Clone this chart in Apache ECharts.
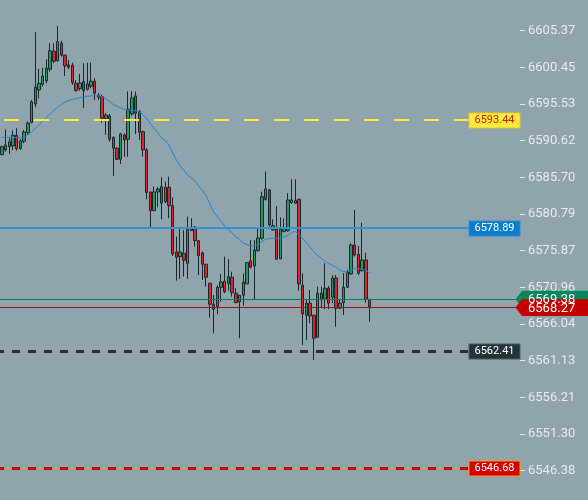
<!DOCTYPE html>
<html><head><meta charset="utf-8">
<script src="https://cdn.jsdelivr.net/npm/echarts@6/dist/echarts.min.js"></script>
<style>html,body{margin:0;padding:0;background:#90a4ae;overflow:hidden}#c{width:588px;height:500px}</style>
</head><body><div id="c"></div>
<script>
const opens=[6588.75,6589.38,6589.82,6589.92,6591.35,6589.56,6590.55,6591.70,6593.04,6595.55,
6597.42,6598.19,6598.67,6600.20,6602.61,6601.35,6603.69,6602.08,6600.78,6600.74,
6598.32,6597.60,6598.54,6597.52,6597.92,6598.59,6596.75,6596.53,6593.58,6593.94,
6591.08,6589.61,6588.13,6591.39,6590.82,6594.21,6596.62,6594.52,6591.83,6589.38,
6583.75,6581.24,6583.75,6584.46,6582.45,6584.38,6581.91,6575.71,6575.08,6575.53,
6574.19,6578.56,6579.02,6577.22,6575.57,6574.06,6571.51,6568.70,6568.37,6570.97,
6571.78,6571.42,6572.32,6570.17,6569.04,6569.90,6571.42,6574.50,6573.83,6575.88,
6577.54,6582.77,6584.02,6578.65,6578.96,6574.77,6578.43,6578.56,6582.32,6582.24,
6582.77,6571.24,6567.22,6568.83,6567.22,6564.27,6570.17,6569.37,6570.84,6569.63,
6572.22,6568.16,6568.91,6570.97,6572.76,6576.64,6575.40,6573.20,6574.63,6569.37];
const closes=[6589.82,6590.05,6590.45,6591.35,6589.56,6590.59,6591.79,6592.96,6595.82,6597.79,
6598.32,6599.30,6600.33,6602.69,6601.27,6603.90,6602.08,6600.64,6600.47,6598.40,
6597.33,6598.36,6597.33,6598.23,6598.59,6596.98,6596.45,6593.63,6594.07,6590.82,
6589.61,6588.13,6591.53,6590.72,6594.84,6596.35,6594.30,6591.75,6589.38,6583.66,
6581.24,6583.75,6584.15,6582.24,6584.38,6581.91,6575.44,6574.99,6575.71,6574.59,
6578.75,6578.79,6577.22,6575.21,6574.06,6572.32,6568.70,6568.03,6570.97,6571.68,
6570.38,6572.40,6570.25,6568.91,6569.90,6571.68,6574.27,6573.66,6575.97,6577.58,
6583.12,6584.15,6579.33,6579.23,6574.73,6578.75,6578.88,6582.68,6582.68,6582.58,
6571.42,6567.39,6568.83,6567.13,6564.14,6570.17,6569.27,6570.84,6568.83,6572.22,
6568.16,6568.83,6570.97,6572.99,6576.64,6575.30,6572.85,6574.63,6569.37,6568.27];
const lows=[6588.67,6589.15,6588.85,6589.38,6589.29,6589.38,6590.28,6591.39,6592.96,6595.11,
6596.26,6597.87,6598.32,6599.88,6601.00,6601.22,6601.89,6599.30,6600.20,6598.09,
6597.20,6597.33,6595.01,6597.33,6597.65,6596.08,6596.08,6593.04,6591.39,6590.49,
6585.90,6588.04,6587.50,6588.48,6588.48,6593.94,6591.53,6590.72,6588.48,6582.77,
6579.02,6581.24,6581.70,6580.09,6582.24,6580.22,6575.17,6571.86,6572.09,6572.40,
6572.09,6578.56,6576.42,6572.62,6571.95,6571.05,6566.90,6564.81,6567.35,6569.04,
6570.17,6570.52,6569.71,6568.91,6564.14,6568.51,6571.42,6573.52,6569.37,6575.75,
6577.31,6582.58,6579.10,6578.56,6574.73,6574.77,6578.35,6578.43,6582.14,6582.24,
6570.52,6563.24,6563.91,6566.15,6561.23,6564.27,6568.16,6568.03,6568.03,6568.83,
6565.69,6568.03,6567.26,6570.84,6572.62,6575.08,6572.62,6573.06,6568.91,6566.36];
const highs=[6589.96,6592.16,6590.95,6591.97,6592.29,6590.82,6592.06,6593.23,6596.08,6605.16,
6600.24,6600.41,6601.54,6603.69,6603.69,6606.00,6604.03,6602.16,6601.45,6601.08,
6598.77,6599.57,6601.00,6601.08,6601.08,6598.99,6596.98,6596.79,6594.30,6594.21,
6591.16,6589.74,6591.66,6591.62,6597.25,6597.25,6597.20,6594.74,6591.97,6589.65,
6583.75,6584.46,6584.38,6585.72,6585.13,6585.80,6583.04,6577.76,6578.79,6578.65,
6580.44,6580.22,6579.19,6577.31,6575.75,6574.06,6571.51,6569.94,6571.19,6572.76,
6575.08,6574.73,6573.06,6570.84,6569.90,6572.85,6574.27,6577.31,6577.31,6578.88,
6583.79,6586.47,6584.15,6580.09,6581.87,6580.36,6580.22,6583.58,6585.45,6585.45,
6582.77,6572.85,6569.27,6570.61,6567.22,6571.05,6571.05,6574.19,6571.15,6572.62,
6572.62,6569.27,6572.85,6573.29,6576.87,6581.33,6576.51,6579.64,6575.61,6569.37];
const maValues=[6591.08,6591.07,6591.06,6591.04,6591.02,6590.99,6590.95,6591.39,6591.79,6592.26,
6592.73,6593.27,6593.74,6594.21,6594.68,6595.08,6595.48,6595.82,6596.02,6596.15,
6596.27,6596.38,6596.49,6596.57,6596.62,6596.66,6596.65,6596.55,6596.22,6595.91,
6595.48,6595.21,6595.04,6594.81,6594.74,6594.68,6594.61,6594.48,6594.14,6593.60,
6592.93,6592.26,6591.66,6590.99,6590.65,6590.05,6588.98,6588.04,6587.24,6586.63,
6586.03,6585.63,6585.23,6584.56,6583.95,6583.28,6582.14,6581.07,6580.43,6579.80,
6579.19,6578.72,6578.25,6577.72,6577.31,6576.91,6576.68,6576.51,6576.54,6576.67,
6577.11,6577.38,6577.52,6577.54,6577.54,6577.54,6577.72,6577.92,6578.32,6578.46,
6578.05,6577.52,6576.91,6576.31,6575.71,6575.24,6574.84,6574.44,6574.17,6573.90,
6573.63,6573.29,6573.07,6573.02,6573.23,6573.50,6573.50,6573.39,6573.23,6572.93];
const slotCount=140;
const tickBase=6546.381, tickStep=4.91536;
const levelYellow=6593.44, levelBlue=6578.89, levelDark=6562.41, levelRed=6546.68;
const bidPrice=6569.38, lastPrice=6568.27;

const categories=Array.from({length:slotCount},(_,i)=>String(i));
const ohlc=opens.map((o,i)=>[o,closes[i],lows[i],highs[i]]);

const chart=echarts.init(document.getElementById('c'),null,{renderer:'canvas'});
const option={
  animation:false,
  backgroundColor:'#90a4ae',
  grid:{left:0,right:68,top:-5.97,bottom:-7.37,outerBoundsMode:'none',containLabel:false},
  xAxis:{type:'category',data:categories,boundaryGap:true,show:false},
  yAxis:{type:'value',position:'right',min:tickBase-tickStep,max:tickBase+13*tickStep,interval:tickStep,
    axisLine:{show:false},splitLine:{show:false},
    axisTick:{show:true,length:5,lineStyle:{color:'#e6ebee',width:1}},
    axisLabel:{margin:8,color:'#e6ebee',fontFamily:'Roboto',fontSize:13,showMinLabel:false,showMaxLabel:false,
      padding:[3,0,0,0],formatter:v=>v.toFixed(2)}},
  series:[
    {type:'candlestick',data:ohlc,barWidth:3,
      itemStyle:{color:'#1f9b5f',color0:'#d9272f',borderColor:'#1c272c',borderColor0:'#1c272c',borderWidth:1}},
    {type:'line',data:maValues,showSymbol:false,symbol:'none',lineStyle:{color:'#1f86d0',width:1},z:3,
      markLine:{silent:true,symbol:'none',animation:false,label:{show:false},
        data:[
          {yAxis:levelYellow,lineStyle:{color:'#fdea3c',width:2,type:[15,15],dashOffset:26}},
          {yAxis:levelBlue,lineStyle:{color:'#3591d2',width:2,type:'solid'}},
          {yAxis:levelDark,lineStyle:{color:'#263238',width:3,type:[8,8],dashOffset:4}},
          {yAxis:levelRed,lineStyle:{color:'#ff9800',width:1,type:'solid'}},
          {yAxis:levelRed,lineStyle:{color:'#d50000',width:3,type:[8,8],dashOffset:4}},
          {yAxis:bidPrice,lineStyle:{color:'#107a58',width:1,type:'solid'}},
          {yAxis:lastPrice,lineStyle:{color:'#a80f0f',width:1,type:'solid'}}
        ]}}
  ]
};
chart.setOption(option);

const py=v=>chart.convertToPixel({yAxisIndex:0},v);
function box(v,bg,border,fg){
  return {type:'text',z:100,style:{text:v.toFixed(2),x:519.5,y:Math.round(py(v))+0.5,align:'right',verticalAlign:'middle',
    fill:fg,font:'11px Roboto',backgroundColor:bg,borderColor:border,borderWidth:1,padding:[2,5,1,5]}};
}
function tag(v,bg,fg){
  const y=py(v);
  return [
    {type:'polygon',z:100,shape:{points:[[515.5,y],[522,y-8.5],[588,y-8.5],[588,y+8.5],[522,y+8.5]]},style:{fill:bg}},
    {type:'text',z:101,style:{text:v.toFixed(2),x:528,y:y+1,align:'left',verticalAlign:'middle',fill:fg,font:'13px Roboto'}}
  ];
}
const g=[
  box(levelYellow,'#ffeb3b','#e3c52a','#d81b1b'),
  box(levelBlue,'#0b7dcc','#2f8ed4','#ffffff'),
  box(levelDark,'#263238','#455a64','#ffffff'),
  box(levelRed,'#d50000','#ff9800','#ffffff'),
  ...tag(bidPrice,'#00875a','#ffffff'),
  ...tag(lastPrice,'#c40000','#ffffff')
];
chart.setOption({graphic:g});
</script></body></html>
